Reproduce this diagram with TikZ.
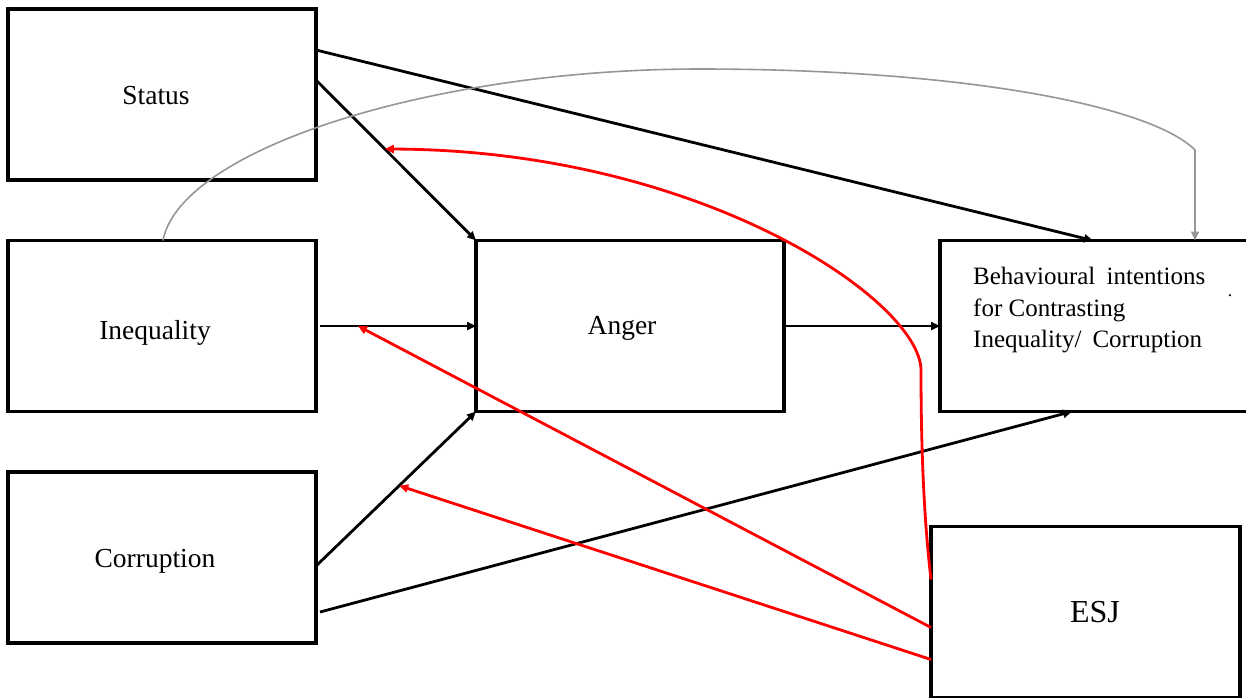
\documentclass[tikz,border=0pt]{standalone}
\usepackage{fontspec}
\setmainfont{Liberation Serif}
\usetikzlibrary{arrows.meta,calc}
\definecolor{curvegray}{RGB}{150,150,150}
\definecolor{modred}{RGB}{255,0,0}
\begin{document}
\begin{tikzpicture}[x=1pt,y=-1pt,
  box/.style={draw=black,line width=3.2pt,outer sep=0pt,inner sep=0pt,
    minimum width=308pt,minimum height=171pt,fill=white},
  lbl/.style={anchor=base,inner sep=0pt,font=\fontsize{27.5}{32}\selectfont},
  path/.style={line width=2.8pt,-{Triangle[length=9pt,width=8pt]}},
  modpath/.style={path,draw=modred},
  covpath/.style={line width=1.6pt,draw=curvegray,-{Triangle[length=9pt,width=8pt]}}]
\clip (0,0) rectangle (1246,697);
\fill[white] (0,0) rectangle (1246,697);

% boxes
\node[box] (status) at (162,94.5) {};
\node[box] (ineq)   at (162,326) {};
\node[box] (corr)   at (162,557.5) {};
\node[box] (anger)  at (630,326) {};
\node[box,minimum width=316pt] (beh) at (1098,326) {};
\node[box,minimum width=309pt] (esj) at (1085.5,612) {};

% labels
\node[lbl] (tstatus) at (156,104) {Status};
\node[lbl] (tineq)   at (155,339) {Inequality};
\node[lbl] (tcorr)   at (155,567) {Corruption};
\node[lbl] (tanger)  at (622,334) {Anger};
\node[lbl,font=\fontsize{32}{36}\selectfont] (tesj) at (1095,622) {ESJ};
\node[anchor=north west,inner sep=0pt,align=left,
  font=\fontsize{25}{31.5}\selectfont] (tbeh) at (973,267)
  {\makebox[232pt][s]{Behavioural intentions}\\
   for Contrasting\\
   \makebox[229pt][s]{Inequality/ Corruption}};
\node[anchor=base,inner sep=0pt,font=\fontsize{18}{20}\selectfont] (stray) at (1230,296) {.};

% connector end points on the boxes
\coordinate (s1) at ([yshift=-41pt]status.north east);
\coordinate (s2) at ([yshift=-71pt]status.north east);
\coordinate (i1) at ([xshift=4pt]ineq.east);
\coordinate (c1) at ([yshift=77pt]corr.south east);
\coordinate (c2) at ([xshift=4pt,yshift=31pt]corr.south east);
\coordinate (b1) at ([xshift=153pt]beh.north west);
\coordinate (b2) at ([xshift=132pt]beh.south west);
\coordinate (b3) at ([xshift=255pt]beh.north west);
\coordinate (g0) at ([xshift=155pt]ineq.north west);
\coordinate (e1) at ([yshift=-53pt]esj.north west);
\coordinate (e2) at ([yshift=-101pt]esj.north west);
\coordinate (e3) at ([yshift=-133pt]esj.north west);

% moderation targets on the paths
\coordinate (m1) at ($(s2)!0.43!(anger.north west)$);
\coordinate (m2) at ([xshift=42pt]ineq.east);
\coordinate (m3) at ($(c1)!0.52!(anger.south west)$);

% direct paths
\draw[path] (s1) -- (b1);
\draw[path] (s2) -- (anger.north west);
\draw[path] (i1) -- (anger.west);
\draw[path] (c1) -- (anger.south west);
\draw[path] (c2) -- (b2);
\draw[path] (anger.east) -- (beh.west);

% inequality to behavioural intentions
\draw[covpath] (g0) .. controls (180,150) and (430,69) .. (700,69)
  .. controls (960,69) and (1150,105) .. (1195,150) -- (b3);

% moderation by ESJ
\draw[modpath] (e1) .. controls (924,520) and (921,450) .. (921,370)
  .. controls (920,300) and (700,150) .. (m1);
\draw[modpath] (e2) -- (m2);
\draw[modpath] (e3) -- (m3);
\end{tikzpicture}
\end{document}
